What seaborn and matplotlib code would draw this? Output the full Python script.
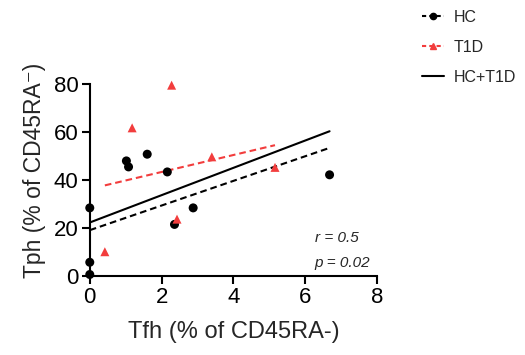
import numpy as np
import pandas as pd
import matplotlib
matplotlib.use('Agg')
import matplotlib.pyplot as plt
from matplotlib.lines import Line2D
import seaborn as sns

# values
hc_tfh = [0.0, 0.0, 0.0, 1.02, 1.08, 1.6, 2.16, 2.36, 2.88, 6.68]
hc_tph = [28.3, 5.6, 0.5, 47.9, 45.4, 50.7, 43.3, 21.4, 28.3, 42.1]
t1d_tfh = [0.42, 1.18, 2.28, 2.43, 3.4, 5.16]
t1d_tph = [10.0, 61.7, 79.5, 23.6, 49.6, 45.2]

# fitted lines (intercept, slope) as shown in the reference
fit_hc = (19.0, 5.14)
fit_t1d = (36.2, 3.54)
fit_all = (22.2, 5.7)

red = '#F23D3D'
dash = (0, (3.2, 1.9))

df = pd.DataFrame({
    'Tfh': hc_tfh + t1d_tfh,
    'Tph': hc_tph + t1d_tph,
    'group': ['HC'] * len(hc_tfh) + ['T1D'] * len(t1d_tfh),
})

sns.set_style('ticks')
plt.rcParams['font.family'] = ['Liberation Sans', 'DejaVu Sans']

fig = plt.figure(figsize=(5.25, 3.55), dpi=100)
ax = fig.add_axes([0.171, 0.2234, 0.547, 0.540])

sns.scatterplot(data=df, x='Tfh', y='Tph', hue='group', style='group',
                palette={'HC': 'black', 'T1D': red},
                markers={'HC': 'o', 'T1D': '^'}, s=42, linewidth=0,
                legend=False, clip_on=False, zorder=3, ax=ax)

def fit_line(xs, fit, **kw):
    xx = np.array([min(xs), max(xs)])
    ax.plot(xx, fit[0] + fit[1] * xx, **kw)

fit_line(hc_tfh, fit_hc, color='black', ls=dash, lw=1.5)
fit_line(t1d_tfh, fit_t1d, color=red, ls=dash, lw=1.5)
fit_line(hc_tfh + t1d_tfh, fit_all, color='black', ls='-', lw=1.5)

ax.set_xlim(0, 8)
ax.set_ylim(0, 80)
ax.set_xticks([0, 2, 4, 6, 8])
ax.set_yticks([0, 20, 40, 60, 80])
for s in ['top', 'right']:
    ax.spines[s].set_visible(False)
for s in ['left', 'bottom']:
    ax.spines[s].set_linewidth(1.5)
    ax.spines[s].set_color('black')
ax.tick_params(width=1.5, length=6, labelsize=16, colors='black', pad=2)
ax.set_xlabel('Tfh (% of CD45RA-)', fontsize=17)
ax.set_ylabel('Tph (% of CD45RA\u207b)', fontsize=16.5)
ax.xaxis.set_label_coords(0.502, -0.236)
ax.yaxis.set_label_coords(-0.153, 0.551)

ax.text(6.27, 15.7, 'r = 0.5', style='italic', fontsize=11, ha='left', va='center')
ax.text(6.27, 5.3, 'p = 0.02', style='italic', fontsize=11, ha='left', va='center')

handles = [
    Line2D([], [], color='black', ls=(0, (2, 1.5)), lw=1.5, marker='o', markersize=4.5),
    Line2D([], [], color=red, ls=(0, (2, 1.5)), lw=1.5, marker='^', markersize=5),
    Line2D([], [], color='black', ls='-', lw=1.5),
]
fig.legend(handles, ['HC', 'T1D', 'HC+T1D'], loc='upper left',
           bbox_to_anchor=(0.786, 1.0), frameon=False, fontsize=11.5,
           handlelength=1.35, labelspacing=0.95, handletextpad=0.6,
           borderaxespad=0.2)

fig.savefig('out.png', dpi=100)
